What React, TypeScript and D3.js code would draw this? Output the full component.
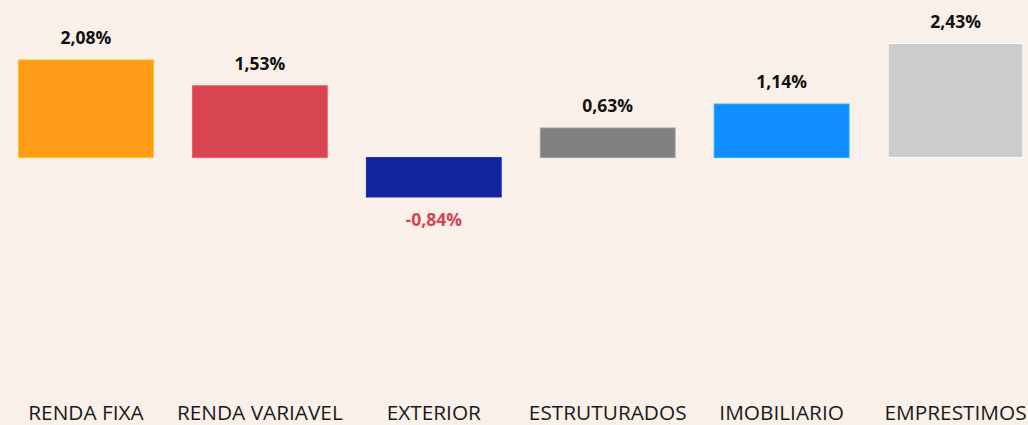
import React from "react";
import * as d3 from "d3";

const categories = ["RENDA FIXA", "RENDA VARIAVEL", "EXTERIOR", "ESTRUTURADOS", "IMOBILIARIO", "EMPRESTIMOS"];
const values = [2.08, 1.53, -0.84, 0.63, 1.14, 2.43];
const colors = ["#FF9B16", "#D64550", "#12239E", "#808080", "#118DFF", "#CCCCCC"];

const W = 1028;
const H = 425;

export default function App() {
  const x = d3.scaleBand<string>().domain(categories).range([-1, 1042.5]).paddingInner(0.225).paddingOuter(0.1125);
  const y = d3.scaleLinear().domain([-0.84, 2.43]).range([197, 43.5]);
  const fmt = (v: number) => v.toFixed(2).replace(".", ",") + "%";
  const y0 = y(0);
  return (
    <div style={{ position: "fixed", left: 0, top: 0, width: W, height: H, background: "#F9F0EA" }}>
      <svg width={W} height={H} style={{ display: "block" }}>
        <rect x={0} y={0} width={W} height={H} fill="#F9F0EA" />
        {categories.map((c, i) => {
          const v = values[i];
          const bx = x(c)!;
          const bw = x.bandwidth();
          const top = Math.min(y(v), y0);
          const h = Math.abs(y(v) - y0);
          const cx = bx + bw / 2;
          return (
            <g key={c}>
              <rect x={bx} y={top} width={bw} height={h} fill={colors[i]} stroke={d3.color(colors[i])!.brighter(0.6).toString()} strokeWidth={1} />
              <text
                x={cx}
                y={v >= 0 ? y(v) - 16 : y(v) + 28.5}
                textAnchor="middle"
                fontFamily="'Open Sans', sans-serif"
                fontWeight={700}
                fontSize={17.5}
                fill={v >= 0 ? "#111111" : "#D64550"}
              >
                {fmt(v)}
              </text>
              <text
                x={cx}
                y={420}
                textAnchor="middle"
                fontFamily="'Open Sans', sans-serif"
                fontSize={20.8}
                fill="#1a1a1a"
              >
                {c}
              </text>
            </g>
          );
        })}
      </svg>
    </div>
  );
}
